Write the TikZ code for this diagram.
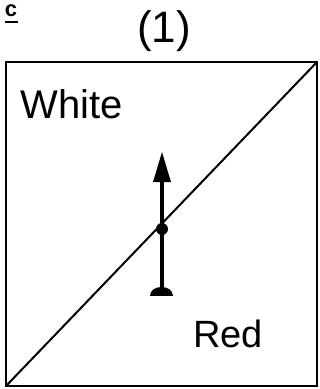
\documentclass[tikz,border=0pt]{standalone}
\usepackage{fontspec}
\setmainfont{Liberation Sans}
\begin{document}
\begin{tikzpicture}[x=1pt,y=-1pt,
  lbl/.style={inner sep=0pt},
  frame/.style={line width=2.4pt},
  thin/.style={line width=2pt}]
\useasboundingbox (0,0) rectangle (320,389);
\node[inner sep=0pt, font=\bfseries\fontsize{22}{24}\selectfont] (c) at (11,11) {c};
\draw[line width=2.2pt] (5,22) -- (18,22);
\node[inner sep=0pt, font=\fontsize{44}{46}\selectfont] (one) at (164,31) {(1)};
\coordinate (bl) at (6,386);
\coordinate (tr) at (317,62);
\draw[frame] (bl) rectangle (tr);
\draw[thin] (bl) -- (tr);
\node[lbl, font=\fontsize{40}{42}\selectfont] (white) at (72,104) {White};
\node[lbl, font=\fontsize{38}{40}\selectfont] (red) at (228,334) {Red};
\coordinate (foot) at (162,290);
\coordinate (tip) at (162,152);
\coordinate (pivot) at (162,229);
\draw[line width=3.5pt] (foot) -- (162,178);
\fill (tip) -- (153,182) -- (171,182) -- cycle;
\fill (pivot) circle (6);
\fill (150,296) .. controls (150,284) and (173,284) .. (173,296) -- cycle;
\end{tikzpicture}
\end{document}
